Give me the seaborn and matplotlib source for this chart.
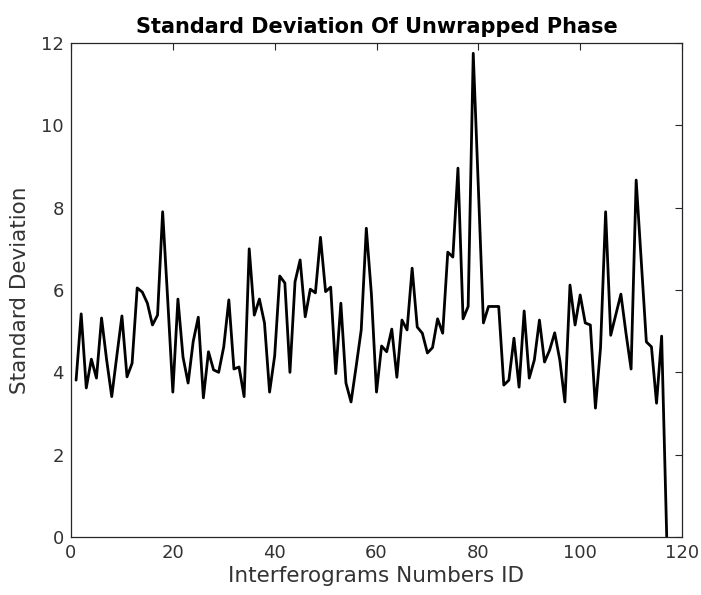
import numpy as np
import pandas as pd
import matplotlib
matplotlib.use("Agg")
import matplotlib.pyplot as plt
import seaborn as sns

# Interferogram IDs and the standard deviation of unwrapped phase for each
interferogram_id = list(range(1, 118))
std_dev = [
    3.81, 5.42, 3.62, 4.32, 3.86, 5.32, 4.30, 3.41, 4.40, 5.37,
    3.89, 4.22, 6.05, 5.95, 5.68, 5.15, 5.39, 7.90, 5.75, 3.52,
    5.78, 4.37, 3.74, 4.75, 5.34, 3.38, 4.50, 4.06, 4.00, 4.62,
    5.76, 4.08, 4.13, 3.41, 7.00, 5.39, 5.78, 5.20, 3.52, 4.40,
    6.34, 6.17, 4.00, 6.20, 6.73, 5.35, 6.02, 5.93, 7.28, 5.96,
    6.07, 3.97, 5.68, 3.74, 3.28, 4.14, 5.03, 7.50, 5.90, 3.52,
    4.64, 4.50, 5.05, 3.88, 5.27, 5.03, 6.53, 5.10, 4.95, 4.47,
    4.60, 5.30, 4.95, 6.92, 6.80, 8.96, 5.30, 5.60, 11.75, 8.50,
    5.20, 5.60, 5.60, 5.60, 3.69, 3.81, 4.83, 3.64, 5.49, 3.86,
    4.30, 5.27, 4.25, 4.54, 4.96, 4.30, 3.28, 6.12, 5.15, 5.88,
    5.20, 5.15, 3.13, 4.60, 7.90, 4.90, 5.40, 5.90, 4.95, 4.08,
    8.67, 6.70, 4.74, 4.62, 3.25, 4.88, 0.00,
]

x_ticks = [0, 20, 40, 60, 80, 100, 120]
y_ticks = [0, 2, 4, 6, 8, 10, 12]

df = pd.DataFrame({"id": interferogram_id, "std": std_dev})

sns.set_style("white")
plt.rcParams["font.family"] = ["DejaVu Sans"]

fig = plt.figure(figsize=(7.01, 5.95), dpi=100)
ax = fig.add_axes([71 / 701, 1 - 537 / 595, (682 - 71) / 701, (537 - 43) / 595])

sns.lineplot(data=df, x="id", y="std", ax=ax, color="black", linewidth=2.0)

ax.set_xlim(0, 120)
ax.set_ylim(0, 12)
ax.set_xticks(x_ticks)
ax.set_yticks(y_ticks)
ax.tick_params(axis="both", which="major", direction="in", length=5, width=0.8,
               top=True, right=True, labelsize=13, labelcolor="#333333",
               color="#262626", pad=5)

for side in ["left", "right", "top", "bottom"]:
    ax.spines[side].set_visible(True)
    ax.spines[side].set_color("#262626")
    ax.spines[side].set_linewidth(0.9)

ax.set_xlabel("Interferograms Numbers ID", fontsize=15.5, color="#333333", labelpad=3)
ax.set_ylabel("Standard Deviation", fontsize=15.5, color="#333333", labelpad=8)
ax.set_title("Standard Deviation Of Unwrapped Phase", fontsize=15,
             fontweight="bold", color="black", pad=7)

fig.savefig("out.png", dpi=100, facecolor="white")
